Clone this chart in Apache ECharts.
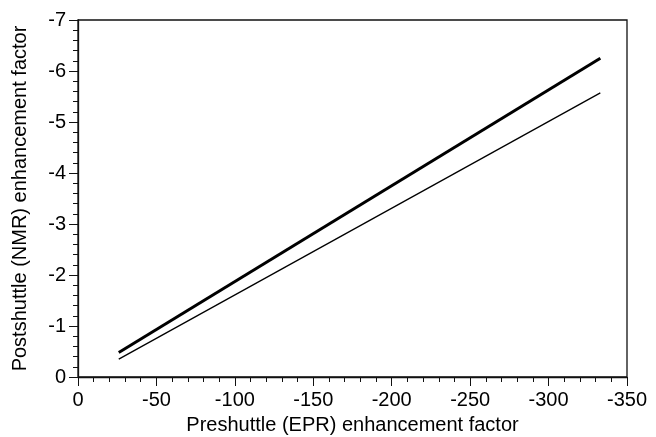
<!DOCTYPE html>
<html>
<head>
<meta charset="utf-8">
<script src="https://cdn.jsdelivr.net/npm/echarts@6/dist/echarts.min.js"></script>
<style>
  html, body { margin: 0; padding: 0; background: #fff; }
  #chart { width: 656px; height: 437px; }
</style>
</head>
<body>
<div id="chart"></div>
<script>
// endpoints of the two fitted lines [EPR, NMR]
var thickLine = [[-26, -0.48], [-333, -6.25]];
var thinLine = [[-26, -0.35], [-333, -5.57]];
var xTicks = { min: -350, max: 0, step: 50 };
var yTicks = { min: -7, max: 0, step: 1 };

var chart = echarts.init(document.getElementById('chart'));
var font = 'Liberation Sans, Arial, sans-serif';

var option = {
	animation: false,
	grid: {
		left: 78,
		right: 29,
		top: 20,
		bottom: 60,
		outerBoundsMode: 'none',
		show: true,
		borderColor: '#111',
		borderWidth: 1.3
	},
	xAxis: {
		type: 'value',
		inverse: true,
		min: xTicks.min,
		max: xTicks.max,
		interval: xTicks.step,
		name: 'Preshuttle (EPR) enhancement factor',
		nameLocation: 'middle',
		nameGap: 38,
		nameTextStyle: { color: '#000', fontSize: 20, fontFamily: font },
		axisLine: { lineStyle: { color: '#111', width: 1.3 } },
		axisTick: { length: 9, lineStyle: { color: '#111' } },
		minorTick: { show: true, splitNumber: 5, length: 5, lineStyle: { color: '#111' } },
		splitLine: { show: false },
		axisLabel: { color: '#000', fontSize: 20, fontFamily: font, margin: 13 }
	},
	yAxis: {
		type: 'value',
		inverse: true,
		min: yTicks.min,
		max: yTicks.max,
		interval: yTicks.step,
		name: 'Postshuttle (NMR) enhancement factor',
		nameLocation: 'middle',
		nameGap: 48,
		nameTextStyle: { color: '#000', fontSize: 20, fontFamily: font },
		axisLine: { lineStyle: { color: '#111', width: 1.3 } },
		axisTick: { length: 9, lineStyle: { color: '#111' } },
		minorTick: { show: true, splitNumber: 5, length: 5, lineStyle: { color: '#111' } },
		splitLine: { show: false },
		axisLabel: { color: '#000', fontSize: 20, fontFamily: font, margin: 12 }
	},
	series: [{
		type: 'line',
		data: thickLine,
		symbol: 'none',
		lineStyle: { color: '#000', width: 3 }
	}, {
		type: 'line',
		data: thinLine,
		symbol: 'none',
		lineStyle: { color: '#000', width: 1.3 }
	}]
};
chart.setOption(option);
</script>
</body>
</html>
